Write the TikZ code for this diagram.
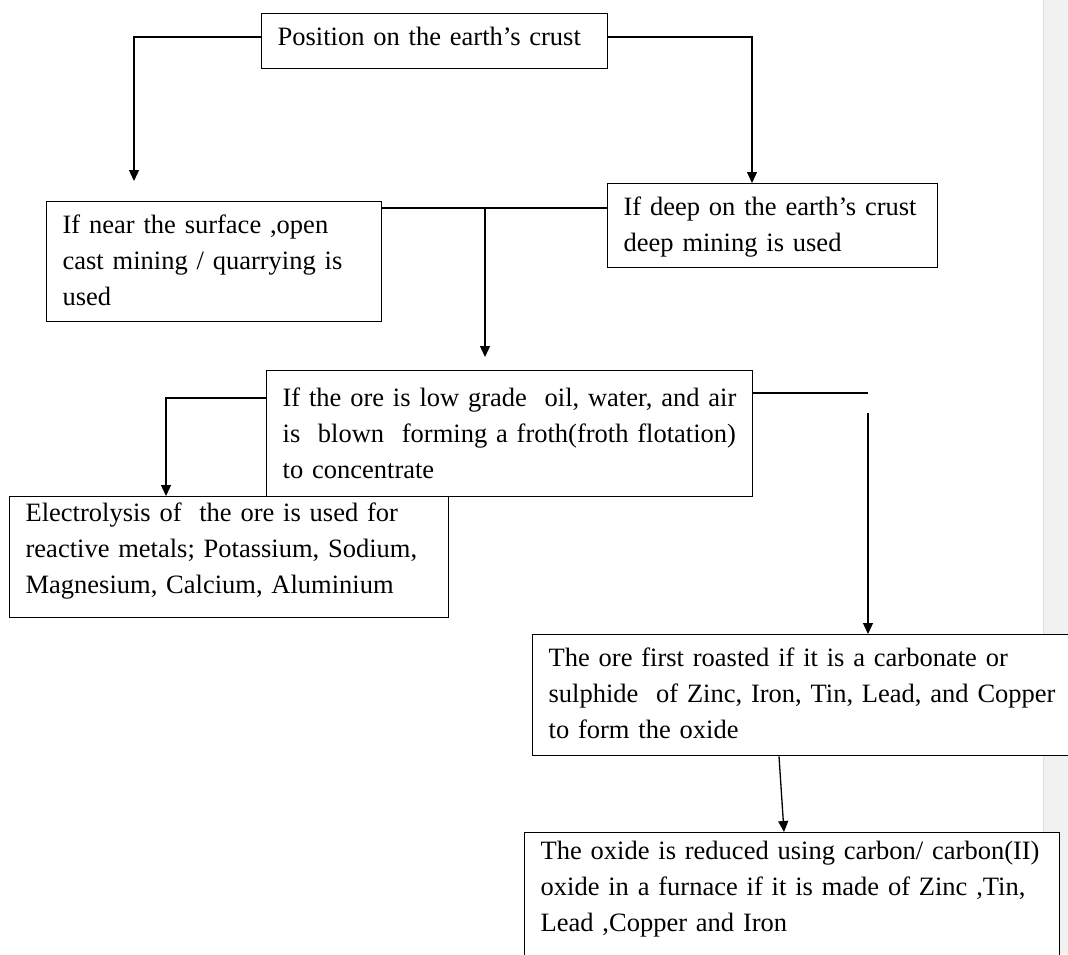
\documentclass[tikz,border=0pt]{standalone}
\usepackage{fontspec}
\setmainfont{Liberation Serif}
\usetikzlibrary{arrows.meta}
\definecolor{margingray}{RGB}{241,241,241}
\tikzset{
	box/.style={draw,fill=white,line width=1.3pt,anchor=north west,inner xsep=16pt,inner ysep=0pt,text height=32pt,font=\fontsize{26.5pt}{36pt}\selectfont,execute at begin node={\rightskip=0pt minus 40pt\relax}},
	conn/.style={line width=1.3pt,-{Triangle[length=11pt,width=10pt]}}
}
\begin{document}
\begin{tikzpicture}[x=1pt,y=-1pt]
		\useasboundingbox (0,0) rectangle (1068,954);
		\clip (0,0) rectangle (1068,954);
		\fill[margingray] (1043,0) rectangle (1068,954);
		\draw[gray!25,line width=0.8pt] (1043,0) -- (1043,954);
		
		\node[box,text width=314pt,text depth=23pt] (b1) at (261,13) {Position on the earth’s crust};
		\node[box,text width=303pt,text depth=88pt] (b2) at (46,201) {If near the surface ,open\\cast mining / quarrying is\\used};
		\node[box,text width=298pt,text depth=52pt] (b3) at (607,183) {If deep on the earth’s crust\\deep mining is used};
		\node[box,text width=454pt,text height=36pt,text depth=90pt] (b4) at (266,370) {If the ore is low grade\ \ oil, water, and air\\is\ \ blown\ \ forming a froth(froth flotation)\\to concentrate};
		\node[box,text width=407pt,text height=25pt,text depth=96pt] (b5) at (9,496) {Electrolysis of\ \ the ore is used for\\reactive metals; Potassium, Sodium,\\Magnesium, Calcium, Aluminium};
		\node[box,text width=528pt,text depth=89pt] (b6) at (532,634) {The ore first roasted if it is a carbonate or\\sulphide\ \ of Zinc, Iron, Tin, Lead, and Copper\\to form the oxide};
		\node[box,text width=503pt,text height=27pt,text depth=123pt] (b7) at (524,832) {The oxide is reduced using carbon/ carbon(II)\\oxide in a furnace if it is made of Zinc ,Tin,\\Lead ,Copper and Iron};
		
		\coordinate (t2) at (134,181);
		\coordinate (t3) at (752,183);
		\coordinate (s1) at (485,208);
		\coordinate (t4) at (485,357);
		\coordinate (t5) at (166,496);
		\coordinate (e4) at (868,393);
		\coordinate (s6) at (868,413);
		\coordinate (a7) at (779,755);
		\coordinate (t7) at (784,832);
		
		\draw[conn] (b1.west|-0,37) -| (t2);
		\draw[conn] (b1.east|-0,37) -| (t3);
		\draw[line width=1.3pt] (b2.east|-s1) -- (b3.west|-s1);
		\draw[conn] (s1) -- (t4);
		\draw[conn] (b4.west|-0,398) -| (t5);
		\draw[line width=1.3pt] (b4.east|-e4) -- (e4);
		\draw[conn] (s6) -- (b6.north-|s6);
		\draw[conn] (b6.south-|a7) -- (b7.north-|t7);
	\end{tikzpicture}
\end{document}
